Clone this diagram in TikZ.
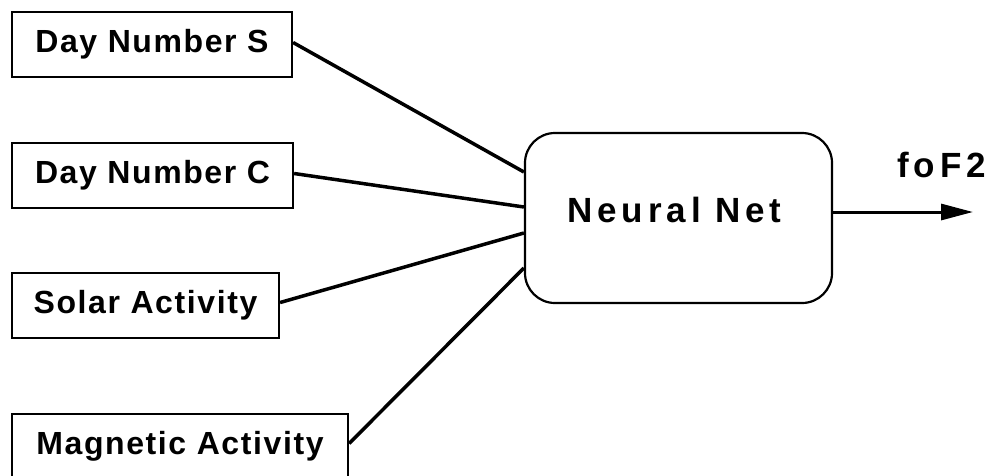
\documentclass[tikz,border=0pt]{standalone}
\usepackage{fontspec}
\setmainfont{Liberation Sans}
\newfontfamily\inputfont{Liberation Sans}[LetterSpace=5]
\newfontfamily\outputfont{Liberation Sans}[LetterSpace=14]
\usetikzlibrary{arrows.meta}

\tikzset{
  inbox/.style={draw, line width=2.2pt, minimum height=65pt, inner sep=0pt,
    text height=24pt, text depth=8pt,
    font=\inputfont\bfseries\fontsize{32}{38}\selectfont},
  netbox/.style={draw, line width=2.2pt, rounded corners=30pt,
    minimum width=307pt, minimum height=170pt, inner sep=0pt,
    text height=25pt, text depth=17pt,
    font=\outputfont\bfseries\fontsize{35}{42}\selectfont},
  outlabel/.style={inner sep=0pt, anchor=base west,
    font=\outputfont\bfseries\fontsize{35}{42}\selectfont},
  feed/.style={line width=3.5pt},
  result/.style={line width=3pt, -{Triangle[length=32pt, width=16pt]}},
}

\begin{document}
\begin{tikzpicture}[x=1pt, y=-1pt]
  \useasboundingbox (0,0) rectangle (987,475);
  \clip (0,0) rectangle (987,475);

  % input variables
  \node[inbox, minimum width=280pt] (dayS)  at (152,44.5)   {Day Number S};
  \node[inbox, minimum width=281pt] (dayC)  at (152.5,175.5) {Day Number C};
  \node[inbox, minimum width=267pt] (solar) at (145.5,305.5) {Solar Activity};
  \node[inbox, minimum width=336pt] (magn)  at (180,446.5)   {Magnetic Activity};

  % network (label sits a little left of centre)
  \node[netbox] (net) at (678.5,218) {Neural Net\rule{8pt}{0pt}};

  % inputs into the network
  \draw[feed] ([yshift=2pt]dayS.east)  -- ([yshift=46pt]net.west);
  \draw[feed] ([yshift=2pt]dayC.east)  -- ([yshift=11pt]net.west);
  \draw[feed] ([yshift=3pt]solar.east) -- ([yshift=-15pt]net.west);
  \draw[feed] ([yshift=3pt]magn.east)  -- ([yshift=-50pt]net.west);

  % output
  \coordinate (out) at (973,212);
  \draw[result] ([yshift=6pt]net.east) -- (out);
  \node[outlabel] (foF2) at (897,177) {foF2};
\end{tikzpicture}
\end{document}
